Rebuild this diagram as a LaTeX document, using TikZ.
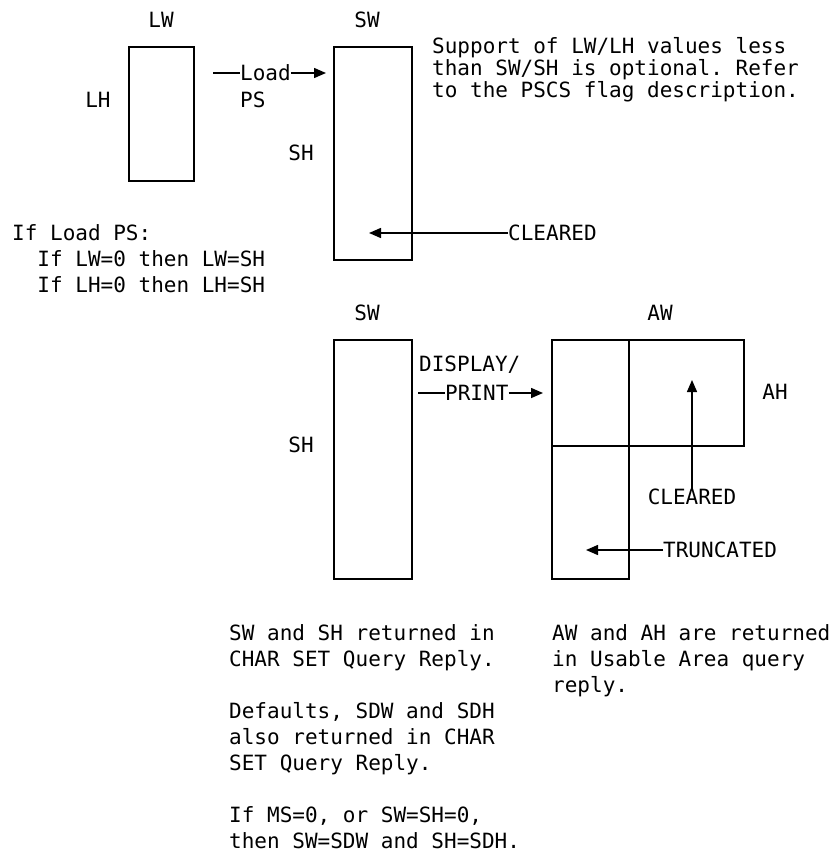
\documentclass[tikz,border=0pt]{standalone}
\usepackage{fontspec}
\setmonofont{DejaVu Sans Mono}
\usepackage{tikz}
\usetikzlibrary{positioning, arrows.meta}
\tikzstyle{area} = [rectangle, draw=black, line width=1.5pt, inner sep=0pt]
\tikzstyle{dimtext} = [inner sep=0pt]
\tikzstyle{note} = [inner sep=0pt, align=left, anchor=north west]
\tikzstyle{tight} = [font=\ttfamily\fontsize{21}{22}\selectfont]
\tikzstyle{line} = [line width=1.5pt]
\tikzstyle{arrow} = [line width=1.5pt, -{Triangle[length=12pt,width=10pt]}]
\tikzstyle{every node}=[font=\ttfamily\fontsize{21}{26}\selectfont]

\begin{document}
\begin{tikzpicture}[x=1pt,y=-1pt]
			\useasboundingbox (0,0) rectangle (832,857);
			%load of the symbol set
			\node (lwbox) [area, minimum width=65pt, minimum height=134pt] at (161.5,114) {};
			\node (swbox) [area, minimum width=78pt, minimum height=213pt] at (373,153.5) {};
			\node (lw) [dimtext] at (161,20) {LW};
			\node (lh) [dimtext] at (98,100) {LH};
			\node (sw) [dimtext] at (367,20) {SW};
			\node (sh) [dimtext] at (301,153) {SH};
			
			\coordinate (loadfrom) at (213,73);
			\coordinate (loadto) at (326,73);
			\node (load) [dimtext, anchor=west] at (240,73) {Load};
			\node (ps) [dimtext, anchor=west] at ([yshift=-27pt]load.west) {PS};
			\draw [line](loadfrom) -- (load.west);
			\draw [arrow](load.east) -- (loadto);
			
			\node (cleared1) [dimtext, anchor=west] at (508,233) {CLEARED};
			\coordinate (clrtip1) at (369,233);
			\draw [arrow](cleared1.west) -- (clrtip1);
			
			\node (support) [note, tight] at (432,37) {Support of LW/LH values less\\than SW/SH is optional. Refer\\to the PSCS flag description.};
			\node (ifload) [note] at (12,224) {If Load PS:\\\phantom{If}If LW=0 then LW=SH\\\phantom{If}If LH=0 then LH=SH};
			
			%display or print
			\node (swbox2) [area, minimum width=78pt, minimum height=239pt] at (373,459.5) {};
			\node (sw2) [dimtext] at (367,313) {SW};
			\node (sh2) [dimtext] at (301,445) {SH};
			
			\node (display) [dimtext, anchor=west] at (419,365) {DISPLAY/};
			\coordinate (printfrom) at (418,393);
			\coordinate (printto) at (543,393);
			\node (print) [dimtext, anchor=west] at (445,393) {PRINT};
			\draw [line](printfrom) -- (print.west);
			\draw [arrow](print.east) -- (printto);
			
			\node (awtop) [area, minimum width=192pt, minimum height=106pt] at (648,393) {};
			\node (awcol) [area, minimum width=77pt, minimum height=239pt] at (590.5,459.5) {};
			\node (aw) [dimtext] at (660,313) {AW};
			\node (ah) [dimtext] at (775,392) {AH};
			
			\node (cleared2) [dimtext] at (692,497) {CLEARED};
			\coordinate (clrtip2) at (692,380);
			\draw [arrow](cleared2.north) -- (clrtip2);
			
			\node (truncated) [dimtext, anchor=west] at (663,550) {TRUNCATED};
			\coordinate (trctip) at (586,550);
			\draw [arrow](truncated.west) -- (trctip);
			
			%notes below
			\node (swnote) [note] at (229,624) {SW and SH returned in\\CHAR SET Query Reply.\\[26pt]Defaults, SDW and SDH\\also returned in CHAR\\SET Query Reply.\\[26pt]If MS=0, or SW=SH=0,\\then SW=SDW and SH=SDH.};
			\node (awnote) [note] at (552,624) {AW and AH are returned\\in Usable Area query\\reply.};
		\end{tikzpicture}
\end{document}
